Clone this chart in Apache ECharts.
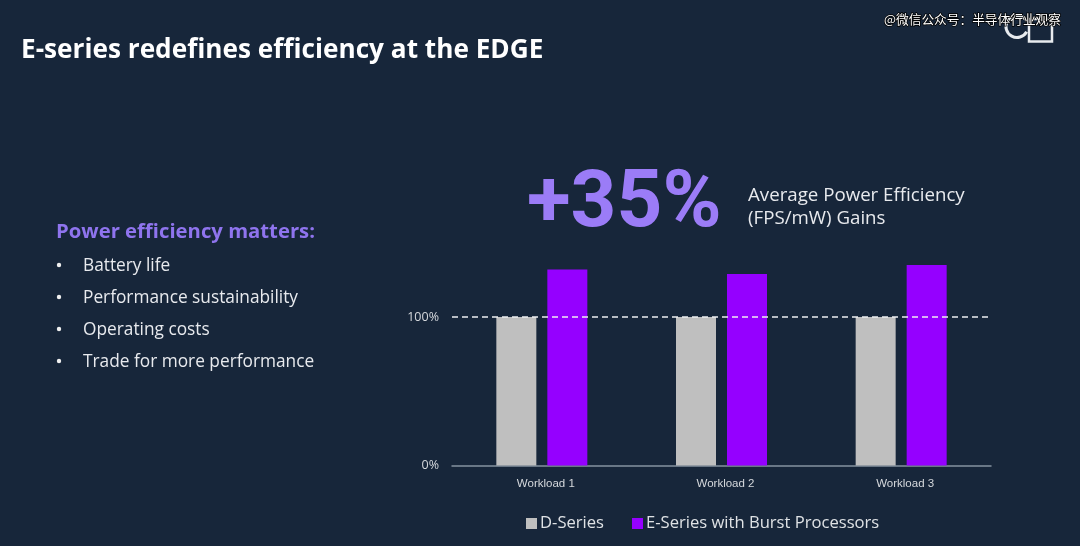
<!DOCTYPE html>
<html>
<head>
<meta charset="utf-8">
<style>html,body{margin:0;padding:0;background:#17263a}#chart{width:1080px;height:546px}</style>
<script src="https://cdn.jsdelivr.net/npm/echarts@6/dist/echarts.min.js"></script>
</head>
<body>
<div id="chart"></div>
<script>
var categories = ['Workload 1', 'Workload 2', 'Workload 3'];
var dSeries = [100, 100, 100];
var eSeries = [132, 129, 135];
var seriesNames = ['D-Series', 'E-Series with Burst Processors'];
var bullets = ['Battery life', 'Performance sustainability', 'Operating costs', 'Trade for more performance'];
var bulletY = [265, 297, 329, 361];

var chart = echarts.init(document.getElementById('chart'));
var mainFont = '"Open Sans"';

var graphics = [
	// 右上角 logo
	{type: 'arc', shape: {cx: 1017, cy: 26.5, r: 11, startAngle: 0.5, endAngle: 5.6}, style: {stroke: '#e8ebee', lineWidth: 3, fill: null}},
	{type: 'rect', shape: {x: 1029, y: 19, width: 23, height: 22.5}, style: {stroke: '#e8ebee', lineWidth: 2.5, fill: null}},
	{type: 'text', x: 884, y: 19, style: {text: '@微信公众号：半导体行业观察', font: '12.7px "Noto Sans CJK SC"', fill: '#ffffff', stroke: '#000000', lineWidth: 1.5, textVerticalAlign: 'middle'}},
	{type: 'text', x: 21, y: 50.5, style: {text: 'E-series redefines efficiency at the EDGE', font: 'bold 26.2px ' + mainFont, fill: '#ffffff', textVerticalAlign: 'middle'}},
	{type: 'text', x: 527, y: 206, style: {text: '+35%', font: 'bold 80px Roboto', fill: '#9b7cf7', textVerticalAlign: 'middle'}},
	{type: 'text', x: 748, y: 196, style: {text: 'Average Power Efficiency', font: '18.7px ' + mainFont, fill: '#e8eaee', textVerticalAlign: 'middle'}},
	{type: 'text', x: 748, y: 219, style: {text: '(FPS/mW) Gains', font: '18.7px ' + mainFont, fill: '#e8eaee', textVerticalAlign: 'middle'}},
	{type: 'text', x: 56, y: 232.5, style: {text: 'Power efficiency matters:', font: 'bold 20.3px ' + mainFont, fill: '#8f74ee', textVerticalAlign: 'middle'}}
];
for (let i = 0; i < bullets.length; i++) {
	graphics.push({type: 'circle', shape: {cx: 59, cy: bulletY[i], r: 2.2}, style: {fill: '#f0f0f0'}});
	graphics.push({type: 'text', x: 83, y: bulletY[i] + 1.5, style: {text: bullets[i], font: '17.3px ' + mainFont, fill: '#e8eaee', textVerticalAlign: 'middle'}});
}

var option = {
	backgroundColor: '#17263a',
	animation: false,
	graphic: graphics,
	legend: {
		left: 521,
		top: 510,
		itemWidth: 11,
		itemHeight: 11,
		itemGap: 28,
		icon: 'rect',
		selectedMode: false,
		textStyle: {color: '#dfe2e5', fontSize: 16.6, fontFamily: mainFont, padding: [0, 0, 0, -2]},
		data: seriesNames
	},
	grid: {left: 452, right: 89, top: 168.5, height: 297},
	xAxis: {
		type: 'category',
		data: categories,
		axisLine: {lineStyle: {color: '#8592a0', width: 1.5}},
		axisTick: {show: false},
		axisLabel: {color: '#d5d8dc', fontSize: 11.5, fontFamily: 'Liberation Sans', margin: 12, padding: [0, 0, 0, 8]}
	},
	yAxis: {
		type: 'value',
		min: 0,
		max: 200,
		interval: 100,
		axisLine: {show: false},
		axisTick: {show: false},
		splitLine: {show: false},
		axisLabel: {
			color: '#d5d8dc',
			fontSize: 12.5,
			fontFamily: mainFont,
			margin: 13,
			formatter: function (v) {
				return v > 100 ? '' : v + '%';
			}
		}
	},
	series: [
		{
			name: seriesNames[0],
			type: 'bar',
			data: dSeries,
			barWidth: 40,
			barGap: '27.5%',
			itemStyle: {color: '#bfbfbf'}
		},
		{
			name: seriesNames[1],
			type: 'bar',
			data: eSeries,
			barWidth: 40,
			itemStyle: {color: '#9500ff'},
			markLine: {
				silent: true,
				symbol: 'none',
				label: {show: false},
				lineStyle: {color: '#eef0f2', type: [6, 4], width: 1.5},
				data: [{yAxis: 100}]
			}
		}
	]
};
chart.setOption(option);
</script>
</body>
</html>
